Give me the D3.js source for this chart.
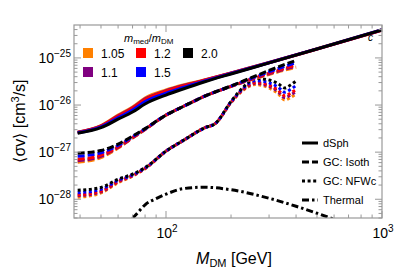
<!DOCTYPE html>
<html>
<head>
<meta charset="utf-8">
<script src="https://cdn.jsdelivr.net/npm/d3@7"></script>
<style>
body { margin: 0; background: #fff; }
text { font-family: "Liberation Sans", Arial, sans-serif; }
</style>
</head>
<body>
<svg id="chart" width="396" height="273"></svg>
<script>
// mass grids (GeV)
var massDSph = [39, 50, 60, 70, 80, 100, 120, 150, 200, 300, 500, 1000];
var massIsoth = [39, 50, 60, 70, 80, 100, 120, 150, 200, 250, 300, 350, 400];
var massNFW = [39, 50, 60, 70, 80, 100, 120, 150, 170, 200, 230, 260, 300, 330, 355, 380, 400];
var massThermal = [70, 75, 80, 90, 100, 120, 150, 200, 300, 400, 500, 600];

var ratios = ["1.05", "1.1", "1.2", "1.5", "2.0"];
var ratioColors = ["#ff8000", "#800080", "#ff0000", "#0000ff", "#000000"];

// <sigma v> in cm^3/s, one array per mass ratio
var dsph105 = [2.66e-27, 3.65e-27, 6.1e-27, 9.1e-27, 1.41e-26, 2.09e-26, 2.67e-26, 3.39e-26, 4.8e-26, 8.0e-26, 1.57e-25, 3.98e-25];
var dsph11  = [2.64e-27, 3.61e-27, 5.9e-27, 8.74e-27, 1.35e-26, 2.01e-26, 2.59e-26, 3.35e-26, 4.77e-26, 7.99e-26, 1.55e-25, 3.90e-25];
var dsph12  = [2.62e-27, 3.57e-27, 5.79e-27, 8.52e-27, 1.31e-26, 1.96e-26, 2.54e-26, 3.31e-26, 4.74e-26, 7.9e-26, 1.54e-25, 3.88e-25];
var dsph15  = [2.58e-27, 3.45e-27, 5.4e-27, 7.8e-27, 1.18e-26, 1.79e-26, 2.37e-26, 3.2e-26, 4.66e-26, 7.9e-26, 1.56e-25, 3.96e-25];
var dsph20  = [2.53e-27, 3.32e-27, 5.0e-27, 7.1e-27, 1.05e-26, 1.63e-26, 2.19e-26, 3.08e-26, 4.57e-26, 7.83e-26, 1.55e-25, 3.94e-25];

var isoth105 = [6.11e-28, 7.67e-28, 1.22e-27, 1.99e-27, 3.01e-27, 6.12e-27, 9.3e-27, 1.52e-26, 2.48e-26, 3.49e-26, 4.46e-26, 5.42e-26, 6.28e-26];
var isoth11  = [6.57e-28, 8.13e-28, 1.26e-27, 2.01e-27, 3.04e-27, 6.12e-27, 9.3e-27, 1.52e-26, 2.49e-26, 3.54e-26, 4.61e-26, 5.67e-26, 6.66e-26];
var isoth12  = [7.08e-28, 8.66e-28, 1.30e-27, 2.05e-27, 3.06e-27, 6.12e-27, 9.3e-27, 1.52e-26, 2.50e-26, 3.61e-26, 4.77e-26, 5.95e-26, 7.1e-26];
var isoth15  = [8.2e-28, 9.66e-28, 1.39e-27, 2.12e-27, 3.11e-27, 6.12e-27, 9.3e-27, 1.52e-26, 2.52e-26, 3.72e-26, 5.08e-26, 6.5e-26, 7.91e-26];
var isoth20  = [9.5e-28, 1.08e-27, 1.48e-27, 2.19e-27, 3.16e-27, 6.12e-27, 9.3e-27, 1.52e-26, 2.54e-26, 3.85e-26, 5.42e-26, 7.1e-26, 8.85e-26];

var nfw105 = [1.10e-28, 1.36e-28, 2.25e-28, 3.09e-28, 4.46e-28, 1.05e-27, 1.76e-27, 3.24e-27, 4.14e-27, 1.13e-26, 2.14e-26, 2.73e-26, 2.30e-26, 1.75e-26, 1.28e-26, 1.48e-26, 1.71e-26];
var nfw11  = [1.18e-28, 1.43e-28, 2.33e-28, 3.15e-28, 4.50e-28, 1.05e-27, 1.76e-27, 3.24e-27, 4.14e-27, 1.14e-26, 2.20e-26, 2.89e-26, 2.49e-26, 1.93e-26, 1.44e-26, 1.67e-26, 1.95e-26];
var nfw12  = [1.24e-28, 1.49e-28, 2.39e-28, 3.20e-28, 4.53e-28, 1.05e-27, 1.76e-27, 3.24e-27, 4.14e-27, 1.15e-26, 2.25e-26, 3.02e-26, 2.64e-26, 2.08e-26, 1.57e-26, 1.84e-26, 2.14e-26];
var nfw15  = [1.37e-28, 1.62e-28, 2.52e-28, 3.29e-28, 4.60e-28, 1.05e-27, 1.76e-27, 3.24e-27, 4.14e-27, 1.17e-26, 2.36e-26, 3.30e-26, 2.96e-26, 2.41e-26, 1.87e-26, 2.20e-26, 2.60e-26];
var nfw20  = [1.55e-28, 1.78e-28, 2.67e-28, 3.41e-28, 4.68e-28, 1.05e-27, 1.76e-27, 3.24e-27, 4.14e-27, 1.19e-26, 2.48e-26, 3.66e-26, 3.40e-26, 2.86e-26, 2.30e-26, 2.73e-26, 3.24e-26];

var thermal = [3.94e-29, 5.56e-29, 7.64e-29, 1.03e-28, 1.28e-28, 1.68e-28, 1.80e-28, 1.59e-28, 1.05e-28, 7.10e-29, 5.04e-29, 3.75e-29];

var lineStyles = ["dSph", "GC: Isoth", "GC: NFWc", "Thermal"];
var dashes = [null, "7,3", "3,2.6", "7,3,2.5,3"];

var xTicks = [100, 1000];
var yTicks = [1e-28, 1e-27, 1e-26, 1e-25];

var svg = d3.select("#chart");
var margin = {left: 74, right: 14, top: 25, bottom: 55};
var W = 396, H = 273;

var x = d3.scaleLog().domain([37.5, 1000]).range([margin.left, W - margin.right]);
var y = d3.scaleLog().domain([4e-29, 5e-25]).range([H - margin.bottom, margin.top]);

svg.append("clipPath").attr("id", "clip")
    .append("rect")
    .attr("x", margin.left).attr("y", margin.top)
    .attr("width", W - margin.left - margin.right)
    .attr("height", H - margin.top - margin.bottom);

var line = d3.line()
    .x(function(d) { return x(d[0]); })
    .y(function(d) { return y(d[1]); })
    .curve(d3.curveMonotoneX);

var plot = svg.append("g").attr("clip-path", "url(#clip)");

function drawSet(masses, sets, dash) {
    sets.forEach(function(vals, i) {
        plot.append("path")
            .datum(masses.map(function(m, j) { return [m, vals[j]]; }))
            .attr("d", line)
            .attr("fill", "none")
            .attr("stroke", ratioColors[i])
            .attr("stroke-width", 3)
            .attr("stroke-dasharray", dash);
    });
}

drawSet(massNFW, [nfw105, nfw11, nfw12, nfw15, nfw20], dashes[2]);
drawSet(massIsoth, [isoth105, isoth11, isoth12, isoth15, isoth20], dashes[1]);
drawSet(massDSph, [dsph105, dsph11, dsph12, dsph15, dsph20], dashes[0]);

plot.append("path")
    .datum(massThermal.map(function(m, j) { return [m, thermal[j]]; }))
    .attr("d", line)
    .attr("fill", "none")
    .attr("stroke", "#000")
    .attr("stroke-width", 3)
    .attr("stroke-dasharray", dashes[3]);

// frame and ticks
var frame = "#999";
var x0 = margin.left, x1 = W - margin.right, y0 = margin.top, y1 = H - margin.bottom;
svg.append("rect")
    .attr("x", x0).attr("y", y0)
    .attr("width", x1 - x0).attr("height", y1 - y0)
    .attr("fill", "none").attr("stroke", frame).attr("stroke-width", 1.2);

var ticks = svg.append("g").attr("stroke", frame).attr("stroke-width", 1);
// x minor and major
var xMinor = [];
[10, 100].forEach(function(dec) {
    for (var k = 1; k < 10; k++) {
        var v = dec * k;
        if (v >= 37.5 && v <= 1000) xMinor.push(v);
    }
});
xMinor.push(1000);
xMinor.forEach(function(v) {
    var major = xTicks.indexOf(v) >= 0;
    var len = major ? 7 : 3.5;
    ticks.append("line").attr("x1", x(v)).attr("x2", x(v)).attr("y1", y1).attr("y2", y1 - len);
    ticks.append("line").attr("x1", x(v)).attr("x2", x(v)).attr("y1", y0).attr("y2", y0 + len);
});
// y minor and major
var yMinor = [];
[1e-29, 1e-28, 1e-27, 1e-26, 1e-25].forEach(function(dec) {
    for (var k = 1; k < 10; k++) {
        var v = dec * k;
        if (v >= 4e-29 && v <= 5e-25) yMinor.push(v);
    }
});
yMinor.forEach(function(v) {
    var major = yTicks.some(function(t) { return Math.abs(t - v) / t < 1e-6; });
    var len = major ? 7 : 3.5;
    ticks.append("line").attr("y1", y(v)).attr("y2", y(v)).attr("x1", x0).attr("x2", x0 + len);
    ticks.append("line").attr("y1", y(v)).attr("y2", y(v)).attr("x1", x1).attr("x2", x1 - len);
});

// tick labels
yTicks.forEach(function(t) {
    var e = Math.round(Math.log10(t));
    var tx = svg.append("text")
        .attr("x", 71).attr("y", y(t) + 5)
        .attr("text-anchor", "end")
        .attr("font-size", 14);
    tx.append("tspan").text("10");
    tx.append("tspan").attr("dy", -6).attr("font-size", 10).text("\u2212" + (-e));
});
xTicks.forEach(function(t) {
    var e = Math.round(Math.log10(t));
    var tx = svg.append("text")
        .attr("x", x(t) + 1).attr("y", 238)
        .attr("text-anchor", "middle")
        .attr("font-size", 14);
    tx.append("tspan").text("10");
    tx.append("tspan").attr("dy", -6).attr("font-size", 10).text(e);
});

// axis titles
var xt = svg.append("text")
    .attr("x", 234).attr("y", 264)
    .attr("text-anchor", "middle")
    .attr("font-size", 16);
xt.append("tspan").attr("font-style", "italic").text("M");
xt.append("tspan").attr("font-size", 11).attr("dy", 3).text("DM");
xt.append("tspan").attr("dy", -3).text(" [GeV]");

var yt = svg.append("text")
    .attr("transform", "translate(25,121) rotate(-90)")
    .attr("text-anchor", "middle")
    .attr("font-size", 16);
yt.append("tspan").text("\u27e8\u03c3v\u27e9 [cm");
yt.append("tspan").attr("font-size", 11).attr("dy", -6).text("3");
yt.append("tspan").attr("dy", 6).text("/s]");

svg.append("text").attr("x", 368).attr("y", 41)
    .attr("font-size", 10).attr("font-style", "italic").text("c");

// colour legend
var lt = svg.append("text").attr("x", 124).attr("y", 42).attr("font-size", 11);
lt.append("tspan").attr("font-style", "italic").text("m");
lt.append("tspan").attr("font-size", 8).attr("dy", 2).text("med");
lt.append("tspan").attr("dy", -2).text("/");
lt.append("tspan").attr("font-style", "italic").text("m");
lt.append("tspan").attr("font-size", 8).attr("dy", 2).text("DM");

var legPos = [[83, 48], [83, 67], [136, 48], [136, 67], [183, 48]];
ratios.forEach(function(r, i) {
    var p = legPos[i];
    svg.append("rect").attr("x", p[0]).attr("y", p[1])
        .attr("width", 10).attr("height", 10)
        .attr("fill", ratioColors[i]);
    svg.append("text").attr("x", p[0] + 18).attr("y", p[1] + 9.5)
        .attr("font-size", 12).text(r);
});

// line-style legend
lineStyles.forEach(function(name, i) {
    var ly = 143 + i * 19;
    svg.append("line")
        .attr("x1", 302).attr("x2", 318).attr("y1", ly).attr("y2", ly)
        .attr("stroke", "#000").attr("stroke-width", 3)
        .attr("stroke-dasharray", dashes[i]);
    svg.append("text").attr("x", 323).attr("y", ly + 4)
        .attr("font-size", 11).text(name);
});
</script>
</body>
</html>
